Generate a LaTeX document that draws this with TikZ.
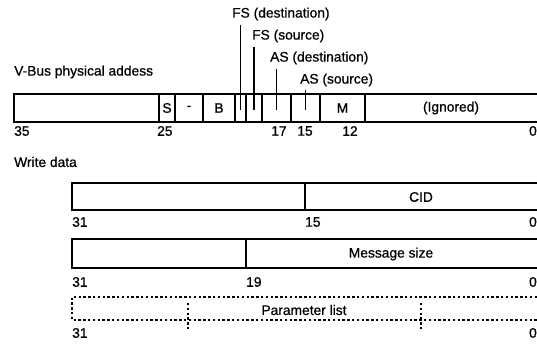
\documentclass[tikz,border=0pt]{standalone}
\usepackage{fontspec}
\setmainfont{Liberation Sans}[FakeBold=0.7]
\begin{document}
\begin{tikzpicture}[x=1pt,y=-1pt,
  lbl/.style={inner sep=0pt,font=\fontsize{13.8}{15}\selectfont},
  reg/.style={line width=1.2pt},
  dotreg/.style={line width=1.05pt,dash pattern=on 2.4pt off 2.4pt},
  tick/.style={line width=1.2pt}]
\useasboundingbox (0,0) rectangle (537,345);

% ---------- top register ----------
\draw[reg] (537,94) -- (14,94) -- (14,122) -- (537,122);
\foreach \x in {159,175,203,235,246,262,291,320,365}
  \draw[reg] (\x,94) -- (\x,122);
\node[lbl] (s) at (167,108) {S};
\node[lbl] (dash) at (189,108) {-};
\node[lbl] (b) at (219,108) {B};
\node[lbl] (m) at (342.5,108) {M};
\node[lbl] (ign) at (451,108) {(Ignored)};

\node[lbl,anchor=west] (vbus) at (14,72) {V-Bus physical addess};

\node[lbl,anchor=west] (fsd) at (232,14) {FS (destination)};
\node[lbl,anchor=west] (fss) at (252,36) {FS (source)};
\node[lbl,anchor=west] (asd) at (270,58) {AS (destination)};
\node[lbl,anchor=west] (ass) at (300,80) {AS (source)};
\coordinate (tfsd) at (240.5,110);
\coordinate (tfss) at (254,110);
\coordinate (tasd) at (276.5,110);
\coordinate (tass) at (305.5,110);
\draw[tick] ([yshift=-4pt]fsd.south -| tfsd) -- (tfsd);
\draw[tick] ([yshift=-4pt]fss.south -| tfss) -- (tfss);
\draw[tick] ([yshift=-4pt]asd.south -| tasd) -- (tasd);
\draw[tick] ([yshift=-3pt]ass.south -| tass) -- (tass);

\node[lbl,anchor=west] (n35) at (14,131) {35};
\node[lbl,anchor=west] (n25) at (157,131) {25};
\node[lbl] (n17) at (279,131) {17};
\node[lbl] (n15) at (305,131) {15};
\node[lbl] (n12) at (350,131) {12};
\node[lbl,anchor=east] (n0a) at (537,131) {0};

\node[lbl,anchor=west] (wd) at (14,162) {Write data};

% ---------- CID word ----------
\draw[reg] (537,183) -- (72,183) -- (72,210) -- (537,210);
\draw[reg] (305,183) -- (305,210);
\node[lbl] (cid) at (421,197) {CID};
\node[lbl,anchor=west] (c31) at (72,222) {31};
\node[lbl,anchor=west] (c15) at (305,222) {15};
\node[lbl,anchor=east] (c0) at (537,222) {0};

% ---------- Message size word ----------
\draw[reg] (537,239) -- (72,239) -- (72,268) -- (537,268);
\draw[reg] (246,239) -- (246,268);
\node[lbl] (msz) at (391,254) {Message size};
\node[lbl,anchor=west] (m31) at (72,282) {31};
\node[lbl,anchor=west] (m19) at (246,282) {19};
\node[lbl,anchor=east] (m0) at (537,282) {0};

% ---------- Parameter list ----------
\draw[dotreg] (537,297) -- (72,297) -- (72,320) -- (537,320);
\draw[dotreg] (188,303) -- (188,329);
\draw[dotreg] (421,303) -- (421,329);
\node[lbl] (plist) at (304,310) {Parameter list};
\node[lbl,anchor=west] (p31) at (72,333) {31};
\node[lbl,anchor=east] (p0) at (537,333) {0};
\end{tikzpicture}
\end{document}
